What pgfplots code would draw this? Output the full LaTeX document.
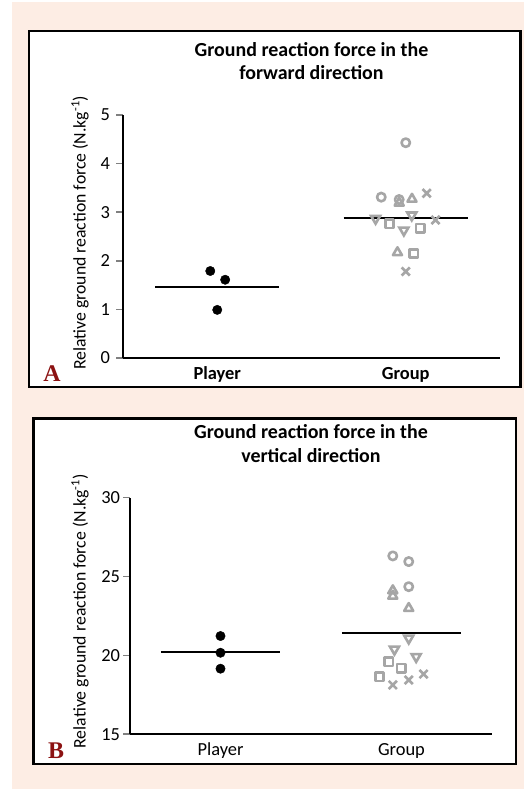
\documentclass[border=0pt]{standalone}
\usepackage{fontspec}
\setmainfont{Carlito}
\newfontfamily\serifb{Liberation Serif}
\usepackage{pgfplots}
\pgfplotsset{compat=1.18}
\definecolor{peach}{RGB}{253,237,228}
\definecolor{mgray}{RGB}{166,166,166}
\definecolor{dred}{RGB}{140,18,18}
\pgfplotsset{
  common/.style={
    scale only axis,
    axis x line=bottom, axis y line=left,
    axis line style={-, line width=2.2bp},
    xmin=-0.5, xmax=1.5, xtick={0,1}, xticklabels={Player,Group},
    major x tick style={draw=none},
    tick align=outside, major tick length=6.5bp,
    major y tick style={line width=1.6bp},
    /pgf/number format/assume math mode=true,
    clip=false,
    tick label style={font=\fontsize{18.5}{20}\selectfont},
    xticklabel style={anchor=base, yshift=-15bp},
    title style={font=\bfseries\fontsize{20}{23.5}\selectfont, align=center, anchor=south,
      at={(axis description cs:0.5,1)}, yshift=29bp, inner sep=0pt},
    ylabel={Relative ground reaction force (N.kg\textsuperscript{-1})},
    ylabel style={font=\fontsize{17.8}{20}\selectfont, anchor=center},
  },
  pl/.style={only marks, mark=*, black, mark size=4.7bp, line width=0.4bp},
  gr/.style={only marks, mgray, line width=2.6bp, mark options={line join=round, solid, fill=none, line width=2.6bp}},
  mline/.style={black, line width=2bp, no marks},
}
\begin{document}
\begin{tikzpicture}
\useasboundingbox (0,0) rectangle (524bp,789bp);
\fill[white] (0,0) rectangle (524bp,789bp);
\fill[peach] (12bp,0) rectangle (524bp,787bp);
\draw[line width=2.5bp, fill=white] (29bp,402bp) rectangle (520.5bp,758bp);
\draw[line width=2.5bp, fill=white] (33.5bp,25bp) rectangle (516bp,370.5bp);

% Panel A
\begin{axis}[common,
  at={(123bp,431bp)}, anchor=south west, width=377bp, height=243bp,
  ymin=0, ymax=5, ytick={0,1,2,3,4,5},
  yticklabel style={xshift=-3bp},
  xticklabel style={font=\bfseries\fontsize{18.5}{20}\selectfont},
  title={Ground reaction force in the\\forward direction},
  ylabel style={at={(axis description cs:-0.114,0.515)}},
]
\addplot[pl] coordinates {(-0.037,1.79) (0.042,1.61) (0,0.99)};
\addplot[mline] coordinates {(-0.33,1.47) (0.33,1.47)};
\addplot[gr, mark=o, mark size=4.2bp] coordinates {(1.0,4.43) (0.87,3.31) (0.965,3.26)};
\addplot[gr, mark=triangle, mark size=5.2bp] coordinates {(1.033,3.27) (0.965,3.19) (0.956,2.17)};
\addplot[gr, mark=triangle, mark size=5.2bp, mark options={rotate=180}] coordinates {(0.84,2.87) (1.032,2.94) (0.99,2.63)};
\addplot[gr, mark=square, mark size=4.2bp] coordinates {(0.914,2.76) (1.077,2.67) (1.042,2.15)};
\addplot[gr, mark=x, mark size=5.8bp] coordinates {(1.111,3.39) (1.158,2.84) (1.0,1.78)};
\addplot[mline] coordinates {(0.67,2.89) (1.33,2.89)};
\end{axis}

% Panel B
\begin{axis}[common,
  at={(130bp,54.7bp)}, anchor=south west, width=362bp, height=236.6bp,
  ymin=15, ymax=30, ytick={15,20,25,30},
  title={Ground reaction force in the\\vertical direction},
  ylabel style={at={(axis description cs:-0.138,0.52)}},
]
\addplot[pl] coordinates {(0,21.23) (0,20.17) (0,19.16)};
\addplot[mline] coordinates {(-0.33,20.2) (0.33,20.2)};
\addplot[gr, mark=o, mark size=4.2bp] coordinates {(0.952,26.31) (1.040,25.95) (1.040,24.36)};
\addplot[gr, mark=triangle, mark size=5.2bp] coordinates {(0.952,24.11) (0.952,23.77) (1.040,22.99)};
\addplot[gr, mark=triangle, mark size=5.2bp, mark options={rotate=180}] coordinates {(1.040,21.09) (0.961,20.39) (1.081,19.92)};
\addplot[gr, mark=square, mark size=4.2bp] coordinates {(0.930,19.60) (0.998,19.18) (0.878,18.65)};
\addplot[gr, mark=x, mark size=5.8bp] coordinates {(0.952,18.13) (1.040,18.44) (1.122,18.82)};
\addplot[mline] coordinates {(0.67,21.44) (1.33,21.44)};
\end{axis}

\node[anchor=base, font=\serifb\bfseries\fontsize{24}{24}\selectfont, text=dred, inner sep=0pt] at (52bp,407bp) {A};
\node[anchor=base, font=\serifb\bfseries\fontsize{24}{24}\selectfont, text=dred, inner sep=0pt] at (56bp,31bp) {B};
\end{tikzpicture}
\end{document}
